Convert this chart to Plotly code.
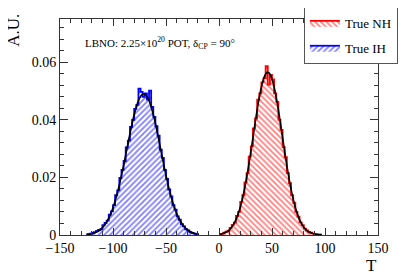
import plotly.graph_objects as go

# ---- data ----
ih_bins = [-125, -123, -121, -119, -117, -115, -113, -111, -109, -107, -105, -103, -101, -99, -97, -95,
           -93, -91, -89, -87, -85, -83, -81, -79, -77, -75, -73, -71, -69, -67, -65, -63, -61, -59,
           -57, -55, -53, -51, -49, -47, -45, -43, -41, -39, -37, -35, -33, -31, -29, -27, -25, -23,
           -21, -19]
ih_hist = [0.0002, 0.0003, 0.0005, 0.0008, 0.0010, 0.0014, 0.0018, 0.0020, 0.0034, 0.0042, 0.0050,
           0.0071, 0.0082, 0.0104, 0.0138, 0.0155, 0.0198, 0.0226, 0.0257, 0.0304, 0.0328, 0.0375,
           0.0400, 0.0438, 0.0452, 0.0508, 0.0497, 0.0480, 0.0492, 0.0470, 0.0501, 0.0445, 0.0410,
           0.0378, 0.0345, 0.0296, 0.0268, 0.0226, 0.0195, 0.0158, 0.0134, 0.0104, 0.0088, 0.0065,
           0.0053, 0.0038, 0.0030, 0.0020, 0.0016, 0.0010, 0.0007, 0.0005, 0.0003, 0.0002]
ih_fit = [0.00016, 0.00025, 0.00037, 0.00054, 0.00078, 0.00112, 0.00156, 0.00215, 0.00292, 0.00390,
          0.00513, 0.00663, 0.00845, 0.01060, 0.01309, 0.01591, 0.01904, 0.02243, 0.02602, 0.02972,
          0.03341, 0.03699, 0.04031, 0.04324, 0.04567, 0.04749, 0.04862, 0.04900, 0.04862, 0.04749,
          0.04567, 0.04324, 0.04031, 0.03699, 0.03341, 0.02972, 0.02602, 0.02243, 0.01904, 0.01591,
          0.01309, 0.01060, 0.00845, 0.00663, 0.00513, 0.00390, 0.00292, 0.00215, 0.00156, 0.00112,
          0.00078, 0.00054, 0.00037, 0.00025]

nh_bins = [1, 3, 5, 7, 9, 11, 13, 15, 17, 19, 21, 23, 25, 27, 29, 31, 33, 35, 37, 39, 41, 43, 45, 47,
           49, 51, 53, 55, 57, 59, 61, 63, 65, 67, 69, 71, 73, 75, 77, 79, 81, 83, 85, 87, 89, 91, 93,
           95, 97]
nh_hist = [0.0003, 0.0004, 0.0008, 0.0012, 0.0014, 0.0025, 0.0035, 0.0043, 0.0066, 0.0080, 0.0115,
           0.0138, 0.0183, 0.0215, 0.0272, 0.0308, 0.0370, 0.0405, 0.0470, 0.0492, 0.0530, 0.0545,
           0.0586, 0.0522, 0.0556, 0.0540, 0.0492, 0.0462, 0.0400, 0.0365, 0.0305, 0.0270, 0.0215,
           0.0180, 0.0138, 0.0112, 0.0080, 0.0064, 0.0044, 0.0034, 0.0022, 0.0016, 0.0011, 0.0008,
           0.0005, 0.0004, 0.0002, 0.0002, 0.0001]
nh_fit = [0.00028, 0.00044, 0.00068, 0.00104, 0.00155, 0.00227, 0.00324, 0.00453, 0.00621, 0.00833,
          0.01095, 0.01409, 0.01775, 0.02190, 0.02646, 0.03130, 0.03626, 0.04112, 0.04567, 0.04968,
          0.05291, 0.05518, 0.05635, 0.05635, 0.05518, 0.05291, 0.04968, 0.04567, 0.04112, 0.03626,
          0.03130, 0.02646, 0.02190, 0.01775, 0.01409, 0.01095, 0.00833, 0.00621, 0.00453, 0.00324,
          0.00227, 0.00155, 0.00104, 0.00068, 0.00044, 0.00028, 0.00017, 0.00010, 0.00006]

x_ticks = [-150, -100, -50, 0, 50, 100, 150]
y_ticks = [0, 0.02, 0.04, 0.06]
y_tick_labels = ["0", "0.02", "0.04", "0.06"]

FONT = "Liberation Serif, Times New Roman, serif"

fig = go.Figure()

fig.add_trace(go.Scatter(
    x=nh_bins, y=nh_hist, name="True NH", mode="lines", line_shape="hvh",
    line=dict(color="rgb(255,0,0)", width=1.8), fill="tozeroy", fillcolor="rgba(0,0,0,0)",
    fillpattern=dict(shape="\\", fgcolor="rgb(255,0,0)", bgcolor="rgba(0,0,0,0)", size=4, solidity=0.45),
    legendgroup="nh"))
fig.add_trace(go.Scatter(
    x=ih_bins, y=ih_hist, name="True IH", mode="lines", line_shape="hvh",
    line=dict(color="rgb(0,0,255)", width=1.8), fill="tozeroy", fillcolor="rgba(0,0,0,0)",
    fillpattern=dict(shape="/", fgcolor="rgb(0,0,255)", bgcolor="rgba(0,0,0,0)", size=4, solidity=0.45),
    legendgroup="ih"))
fig.add_trace(go.Scatter(x=nh_bins, y=nh_fit, mode="lines", line_shape="spline",
                         line=dict(color="black", width=1.6), showlegend=False))
fig.add_trace(go.Scatter(x=ih_bins, y=ih_fit, mode="lines", line_shape="spline",
                         line=dict(color="black", width=1.6), showlegend=False))

axis_common = dict(showline=True, linecolor="#333", linewidth=1, mirror="ticks", ticks="inside",
                   showgrid=False, zeroline=False, tickcolor="#333",
                   tickfont=dict(family=FONT, size=14, color="black"))

fig.update_xaxes(range=[-150, 150], tickvals=x_ticks, ticklen=7,
                 minor=dict(dtick=10, ticklen=4, ticks="inside", tickcolor="#333"),
                 **axis_common)
fig.update_yaxes(range=[0, 0.075], tickvals=y_ticks, ticktext=y_tick_labels, ticklen=8,
                 minor=dict(dtick=0.004, ticklen=4, ticks="inside", tickcolor="#333"),
                 **axis_common)

fig.update_layout(
    width=399, height=268,
    margin=dict(l=52, r=29, t=11, b=41, autoexpand=False),
    plot_bgcolor="white", paper_bgcolor="white",
    font=dict(family=FONT, color="black"),
    legend=dict(x=0.767, y=1.056, xanchor="left", yanchor="top", bgcolor="white",
                bordercolor="#555", borderwidth=1, font=dict(family=FONT, size=13),
                tracegroupgap=5, itemwidth=30),
    annotations=[
        dict(text="A.U.", xref="paper", yref="paper", x=-0.1447, y=0.95, textangle=-90,
             showarrow=False, font=dict(family=FONT, size=17), xanchor="center", yanchor="middle"),
        dict(text="T", xref="paper", yref="paper", x=0.981, y=-0.1435, showarrow=False,
             font=dict(family=FONT, size=17), xanchor="center", yanchor="middle"),
        dict(text="LBNO: 2.25×10<sup>20</sup> POT, δ<sub>CP</sub> = 90°", xref="paper", yref="paper",
             x=0.071, y=0.889, showarrow=False, font=dict(family=FONT, size=11),
             xanchor="left", yanchor="middle"),
    ],
)

fig.write_html("out.html")
